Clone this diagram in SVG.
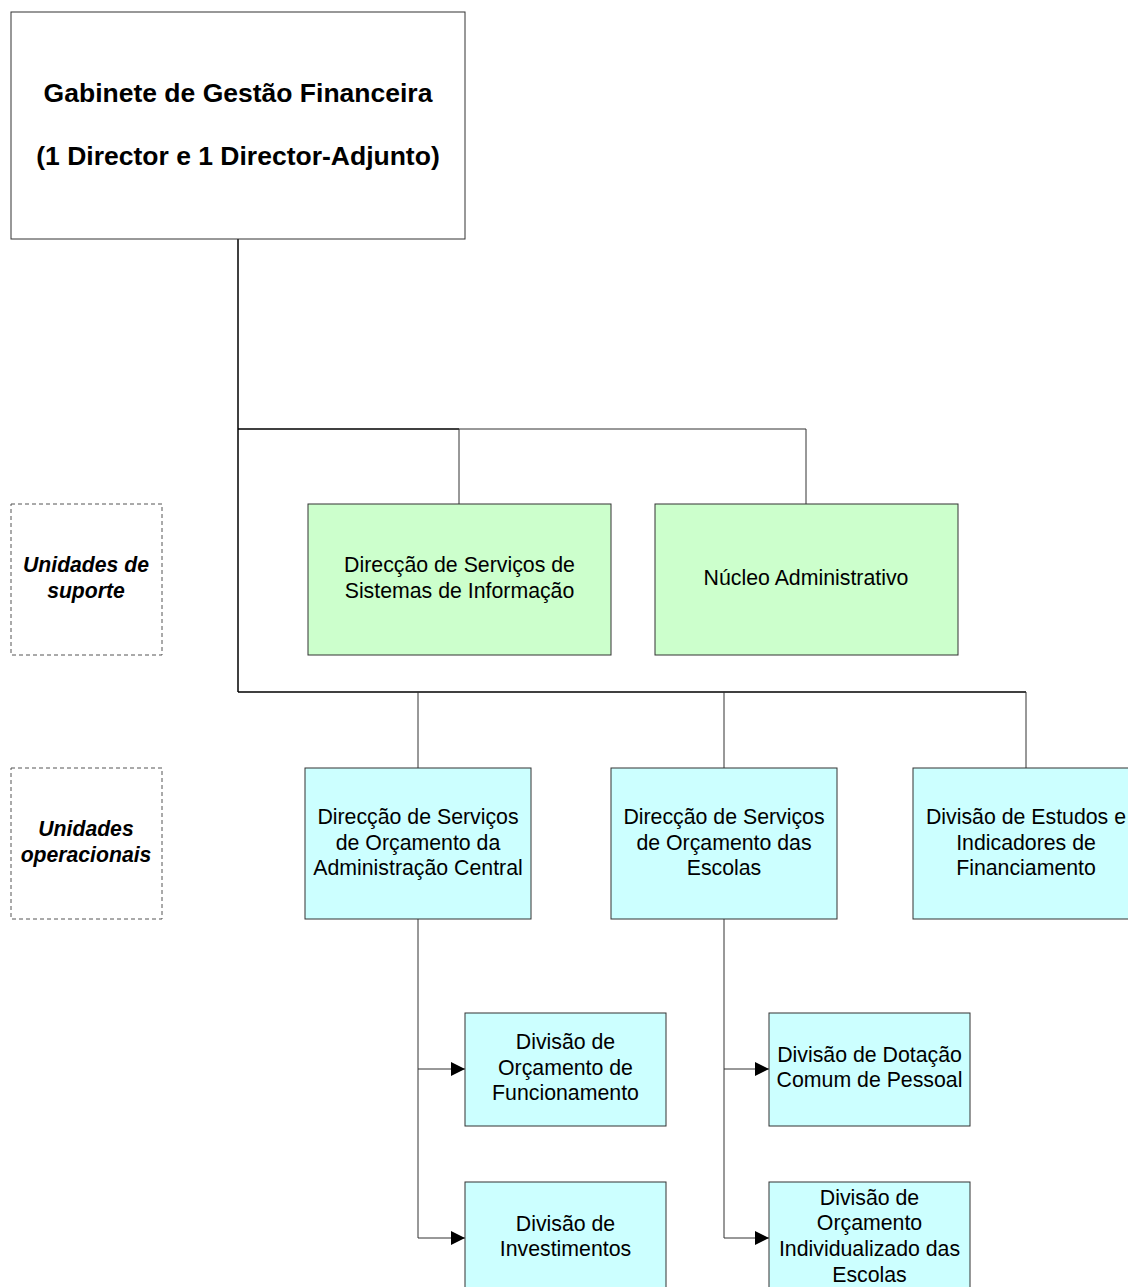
<svg xmlns="http://www.w3.org/2000/svg" width="1128" height="1287" viewBox="0 0 1128 1287">
  <style>
    text { font-family: "Liberation Sans", Arial, sans-serif; font-size: 21.3px; fill: #000; text-anchor: middle; }
    .title { font-weight: bold; font-size: 26.5px; }
    .label { font-weight: bold; font-style: italic; font-size: 21.2px; }
    .box { stroke: #333; stroke-width: 1; }
    .top { fill: #fff; }
    .green { fill: #ccffcc; }
    .cyan { fill: #ccffff; }
    .dash { fill: #fff; stroke: #555; stroke-width: 1; stroke-dasharray: 4 3; }
    .trunk { stroke: #000; stroke-width: 1.5; fill: none; }
    .branch { stroke: #333; stroke-width: 1; fill: none; }
  </style>
  <defs>
    <marker id="arrow" viewBox="0 0 14 14" refX="14" refY="7" markerWidth="14" markerHeight="14" markerUnits="userSpaceOnUse" orient="auto">
      <path d="M0,0 L14,7 L0,14 Z" fill="#000"/>
    </marker>
  </defs>
  <rect width="1128" height="1287" fill="#fff"/>

  <g id="connectors">
    <path class="trunk" d="M238,239 V692"/>
    <path class="trunk" d="M238,429 H459"/>
    <path class="branch" d="M459,429 H806 V504"/>
    <path class="branch" d="M459,429 V504"/>
    <path class="trunk" d="M238,692 H1026"/>
    <path class="branch" d="M418,692 V768"/>
    <path class="branch" d="M724,692 V768"/>
    <path class="branch" d="M1026,692 V768"/>
    <path class="branch" d="M418,919 V1238"/>
    <path class="branch" d="M418,1069 H465" marker-end="url(#arrow)"/>
    <path class="branch" d="M418,1238 H465" marker-end="url(#arrow)"/>
    <path class="branch" d="M724,919 V1238"/>
    <path class="branch" d="M724,1069 H769" marker-end="url(#arrow)"/>
    <path class="branch" d="M724,1238 H769" marker-end="url(#arrow)"/>
  </g>

  <g id="gabinete">
    <rect class="box top" x="11" y="12" width="454" height="227"/>
    <text class="title" x="238" y="102">Gabinete de Gestão Financeira</text>
    <text class="title" x="238" y="165">(1 Director e 1 Director-Adjunto)</text>
  </g>

  <g id="label-suporte">
    <rect class="dash" x="11" y="504" width="151" height="151"/>
    <text class="label" x="86" y="572">Unidades de</text>
    <text class="label" x="86" y="598">suporte</text>
  </g>

  <g id="label-operacionais">
    <rect class="dash" x="11" y="768" width="151" height="151"/>
    <text class="label" x="86" y="836">Unidades</text>
    <text class="label" x="86" y="862">operacionais</text>
  </g>

  <g id="dssi">
    <rect class="box green" x="308" y="504" width="303" height="151"/>
    <text x="459.5" y="572">Direcção de Serviços de</text>
    <text x="459.5" y="598">Sistemas de Informação</text>
  </g>

  <g id="nucleo">
    <rect class="box green" x="655" y="504" width="303" height="151"/>
    <text x="806" y="585">Núcleo Administrativo</text>
  </g>

  <g id="dsoac">
    <rect class="box cyan" x="305" y="768" width="226" height="151"/>
    <text x="418" y="824">Direcção de Serviços</text>
    <text x="418" y="850">de Orçamento da</text>
    <text x="418" y="875">Administração Central</text>
  </g>

  <g id="dsoe">
    <rect class="box cyan" x="611" y="768" width="226" height="151"/>
    <text x="724" y="824">Direcção de Serviços</text>
    <text x="724" y="850">de Orçamento das</text>
    <text x="724" y="875">Escolas</text>
  </g>

  <g id="deif">
    <rect class="box cyan" x="913" y="768" width="226" height="151"/>
    <text x="1026" y="824">Divisão de Estudos e</text>
    <text x="1026" y="850">Indicadores de</text>
    <text x="1026" y="875">Financiamento</text>
  </g>

  <g id="dof">
    <rect class="box cyan" x="465" y="1013" width="201" height="113"/>
    <text x="565.5" y="1049">Divisão de</text>
    <text x="565.5" y="1075">Orçamento de</text>
    <text x="565.5" y="1100">Funcionamento</text>
  </g>

  <g id="di">
    <rect class="box cyan" x="465" y="1182" width="201" height="113"/>
    <text x="565.5" y="1231">Divisão de</text>
    <text x="565.5" y="1256">Investimentos</text>
  </g>

  <g id="ddcp">
    <rect class="box cyan" x="769" y="1013" width="201" height="113"/>
    <text x="869.5" y="1062">Divisão de Dotação</text>
    <text x="869.5" y="1087">Comum de Pessoal</text>
  </g>

  <g id="doie">
    <rect class="box cyan" x="769" y="1182" width="201" height="113"/>
    <text x="869.5" y="1205">Divisão de</text>
    <text x="869.5" y="1230">Orçamento</text>
    <text x="869.5" y="1256">Individualizado das</text>
    <text x="869.5" y="1282">Escolas</text>
  </g>
</svg>
